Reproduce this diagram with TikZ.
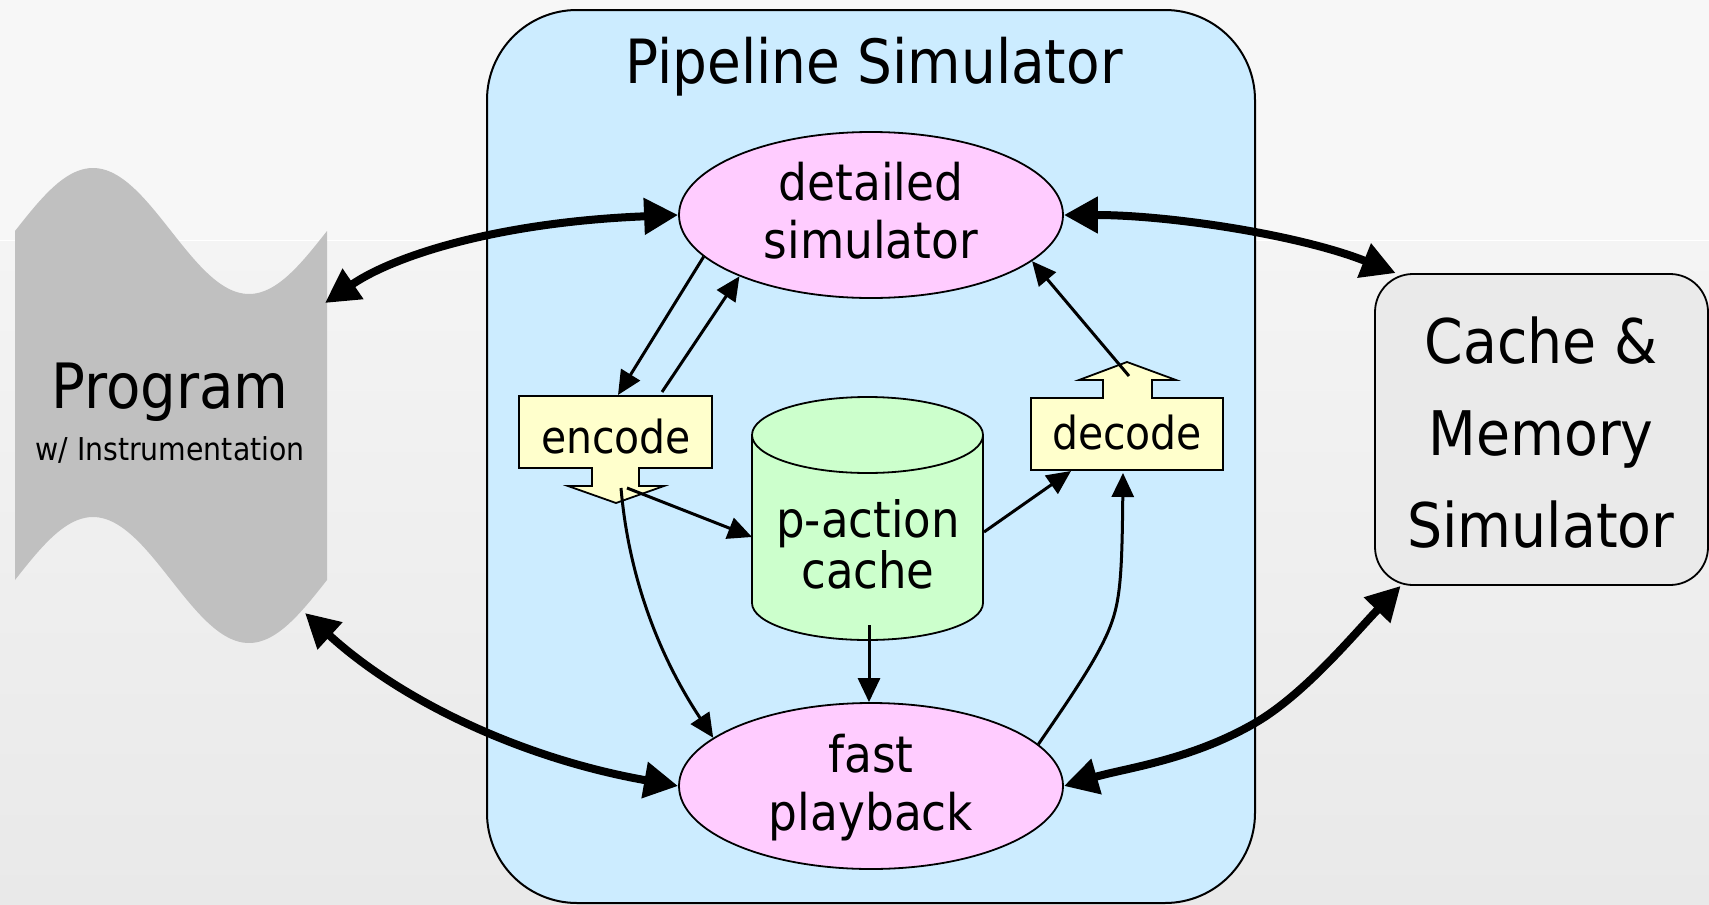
\documentclass[tikz,border=0pt]{standalone}
\usepackage{fontspec}
\setmainfont{DejaVu Sans}[FakeStretch=0.9]
\usetikzlibrary{arrows.meta,shapes.geometric}

\definecolor{bgtop}{HTML}{F7F7F7}
\definecolor{bgmid}{HTML}{F4F4F4}
\definecolor{bgbot}{HTML}{E9E9E9}
\definecolor{pipeblue}{HTML}{CCECFF}
\definecolor{simpink}{HTML}{FFCCFF}
\definecolor{cachegreen}{HTML}{CCFFCC}
\definecolor{codeyellow}{HTML}{FFFFCC}
\definecolor{memgray}{HTML}{EAEAEA}
\definecolor{proggray}{HTML}{C0C0C0}

\newcommand{\sizedfont}[1]{\fontsize{#1}{#1}\selectfont}

\tikzset{
  lbl/.style={inner sep=0pt, anchor=base},
  outline/.style={draw=black, line width=1.8pt},
  simnode/.style={ellipse, outline, fill=simpink, minimum width=384pt, minimum height=166pt, inner sep=0pt},
  bigarrow/.style={line width=8pt, {Triangle[length=34pt,width=35pt]}-{Triangle[length=34pt,width=35pt]}},
  smallarrow/.style={line width=3pt, -{Triangle[length=24pt,width=22pt]}},
}

\begin{document}
\begin{tikzpicture}[x=1pt,y=-1pt]
\useasboundingbox (0,0) rectangle (1709,905);

% backdrop
\fill[bgtop] (0,0) rectangle (1709,240);
\shade[top color=bgmid, bottom color=bgbot] (0,240) rectangle (1709,905);
\draw[white, line width=1pt] (0,240) -- (1709,240);

% program (punched tape): wavy top and bottom edges, one period across
\fill[proggray] plot[domain=15:327, samples=90] (\x,{231-63*sin(1.153846*(\x-15))})
  -- plot[domain=327:15, samples=90] (\x,{580-63*sin(1.153846*(\x-15))}) -- cycle;
\node[lbl] (prog) at (170,408) {\sizedfont{62.5}Program};
\node[lbl] (progsub) at (170,460) {\sizedfont{31.5}w/ Instrumentation};
\coordinate (progTop) at (325,303);
\coordinate (progBot) at (305,613);

% pipeline simulator container
\node[outline, line width=2pt, fill=pipeblue, rounded corners=90pt,
      minimum width=768pt, minimum height=893pt, inner sep=0pt] (pipe) at (871,456.5) {};
\node[lbl] (pipetitle) at (874,83) {\sizedfont{61}Pipeline Simulator};

% cache & memory simulator
\node[outline, fill=memgray, rounded corners=38pt,
      minimum width=333pt, minimum height=311pt, inner sep=0pt] (mem) at (1541.5,429.5) {};
\node[lbl] (mem1) at (1541,363) {\sizedfont{61.5}Cache \&};
\node[lbl] (mem2) at (1541,455) {\sizedfont{61.5}Memory};
\node[lbl] (mem3) at (1541,547) {\sizedfont{61.5}Simulator};

% simulators
\node[simnode] (det) at (871,215) {};
\node[lbl] (det1) at (871,200) {\sizedfont{50.5}detailed};
\node[lbl] (det2) at (871,258) {\sizedfont{50.5}simulator};

\node[simnode] (fast) at (871,786) {};
\node[lbl] (fast1) at (871,772) {\sizedfont{50.5}fast};
\node[lbl] (fast2) at (871,830) {\sizedfont{50.5}playback};

% p-action cache (cylinder)
\fill[cachegreen] (752,435) -- (752,603)
  .. controls (752,623.4) and (803.7,640) .. (867.5,640)
  .. controls (931.3,640) and (983,623.4) .. (983,603) -- (983,435) -- cycle;
\draw[line width=1.8pt] (752,435) -- (752,603)
  .. controls (752,623.4) and (803.7,640) .. (867.5,640)
  .. controls (931.3,640) and (983,623.4) .. (983,603) -- (983,435);
\draw[outline, fill=cachegreen] (867.5,435) ellipse [x radius=115.5pt, y radius=38pt];
\node[lbl] (pac1) at (868,537) {\sizedfont{50}p-action};
\node[lbl] (pac2) at (868,588) {\sizedfont{50}cache};
\coordinate (pacL) at (752,537);
\coordinate (pacR) at (984,532);
\coordinate (pacB) at (869,625);

% encode (box with down arrow)
\draw[outline, fill=codeyellow] (519,396) -- (712,396) -- (712,468) -- (639,468) -- (639,486)
  -- (664,486) -- (616,503) -- (568,486) -- (592,486) -- (592,468) -- (519,468) -- cycle;
\node[lbl] (enc) at (616,453) {\sizedfont{45.5}encode};
\coordinate (encIn) at (618,395);
\coordinate (encOut) at (662,392);
\coordinate (encR) at (627,488);
\coordinate (encB) at (621,488);

% decode (box with up arrow)
\draw[outline, fill=codeyellow] (1031,470) -- (1223,470) -- (1223,398) -- (1152,398) -- (1152,380)
  -- (1176,380) -- (1127,362) -- (1079,380) -- (1103,380) -- (1103,398) -- (1031,398) -- cycle;
\node[lbl] (dec) at (1127,449) {\sizedfont{45.5}decode};
\coordinate (decL) at (1071,471);
\coordinate (decB) at (1123,473);
\coordinate (decT) at (1129,376);

% connections between simulators and encode/decode
\draw[smallarrow] (det.194) -- (encIn);
\draw[smallarrow] (encOut) -- (det.205);
\draw[smallarrow] (encR) -- (pacL);
\draw[smallarrow] (encB) .. controls (628,570) and (655,650) .. (fast.163);
\draw[smallarrow] (pacB) -- (pacB |- fast.north);
\draw[smallarrow] (pacR) -- (decL);
\draw[smallarrow] (fast.14) .. controls (1080,684) and (1097,657) .. (1108,632)
  .. controls (1120,604) and (1122,580) .. (decB);
\draw[smallarrow] (decT) -- (det.344);

% program and memory links
\draw[bigarrow] (progTop) .. controls (395,255) and (500,222) .. (det.west);
\draw[bigarrow] (progBot) .. controls (400,700) and (520,758) .. (fast.west);
\draw[bigarrow] (det.east) .. controls (1170,215) and (1300,235) .. (mem.133);
\draw[bigarrow] (fast.east) .. controls (1126,768) and (1191,760) .. (1255,723)
  .. controls (1305,694) and (1355,633) .. (mem.228);
\end{tikzpicture}
\end{document}
